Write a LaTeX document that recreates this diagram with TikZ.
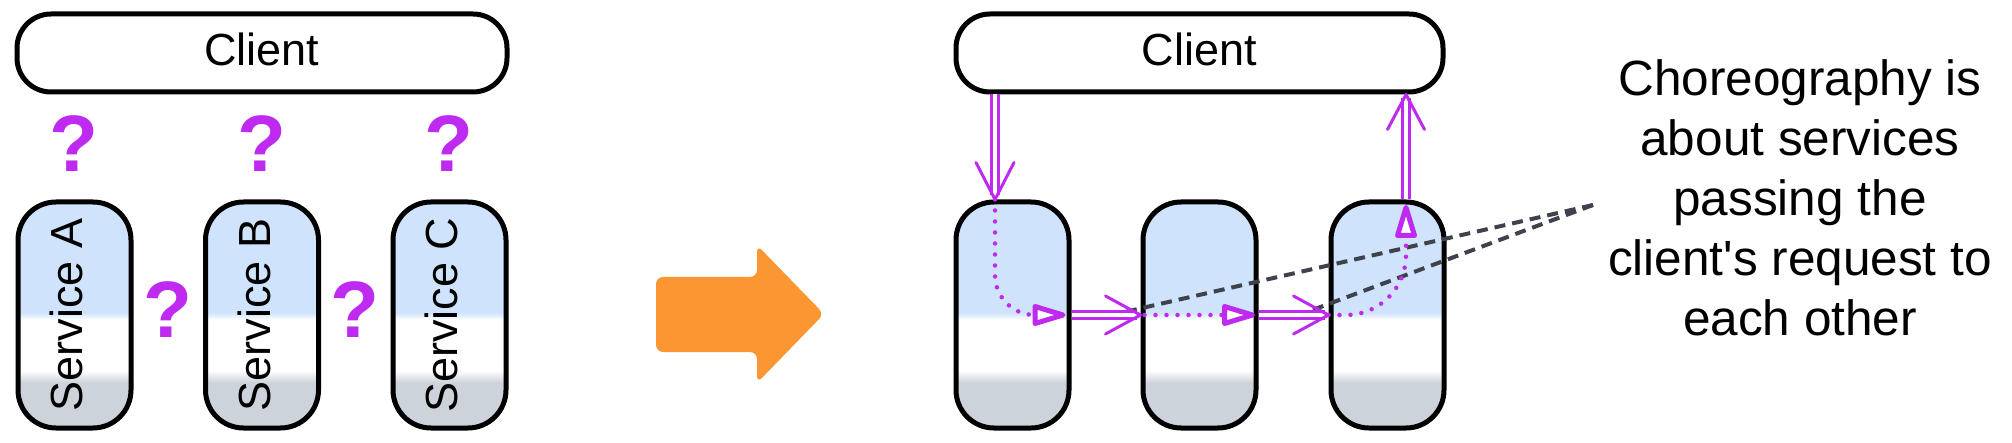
\documentclass[tikz,border=0pt]{standalone}
\usepackage{fontspec}
\setmainfont{Liberation Sans}[Ligatures=TeXOff]
\usetikzlibrary{calc}
\definecolor{vio}{RGB}{190,42,240}
\definecolor{boxblue}{RGB}{207,228,252}
\definecolor{boxgray}{RGB}{205,211,219}
\definecolor{dashgray}{RGB}{62,66,76}
\definecolor{arrorange}{RGB}{251,151,51}
\pgfdeclareverticalshading{svcshade}{100bp}{color(0bp)=(boxgray); color(35bp)=(boxgray); color(37.8bp)=(white); color(49bp)=(white); color(50.5bp)=(boxblue); color(100bp)=(boxblue)}
\tikzset{
  boxline/.style={draw=black, line width=5pt},
  clientbox/.style={boxline, rounded corners=34pt, minimum width=490pt, minimum height=78pt, fill=white, font=\fontsize{45}{54}\selectfont, text depth=8pt, inner sep=0pt},
  svcbox/.style={boxline, rounded corners=38pt, minimum width=113pt, minimum height=226pt, shading=svcshade, inner sep=0pt},
  svclabel/.style={rotate=90, font=\fontsize{45}{54}\selectfont, inner sep=0pt},
  qmark/.style={text=vio, font=\fontsize{80}{90}\selectfont\bfseries, inner sep=0pt},
  dbl/.style={draw=vio, line width=3pt, double=white, double distance=4pt},
  barb/.style={draw=vio, line width=3pt, line join=round, line cap=round},
  dotflow/.style={draw=vio, line width=4.5pt, line cap=round, dash pattern=on 0pt off 11pt},
  tri/.style={draw=vio, fill=white, line width=5pt, line join=round},
  note/.style={draw=dashgray, line width=4pt, dash pattern=on 11pt off 7pt},
  notetext/.style={align=center, font=\fontsize{49.5}{60}\selectfont, inner sep=0pt},
}
\begin{document}
\begin{tikzpicture}[x=1pt,y=1pt]
\useasboundingbox (0,0) rectangle (2012,-443);
% ---------- left part ----------
\node[clientbox, minimum width=490pt] (c1) at (262,-53) {Client};
\node[svcbox] (sA) at (74.5,-315) {};
\node[svcbox] (sB) at (262,-315) {};
\node[svcbox] (sC) at (449.5,-315) {};
\node[svclabel] (lA) at ([xshift=-8pt]sA.center) {Service A};
\node[svclabel] (lB) at ([xshift=-8pt]sB.center) {Service B};
\node[svclabel] (lC) at ([xshift=-8pt]sC.center) {Service C};
\node[qmark] (q1) at (74,-144) {?};
\node[qmark] (q2) at (262,-144) {?};
\node[qmark] (q3) at (449,-144) {?};
\node[qmark] (q4) at (168,-310) {?};
\node[qmark] (q5) at (355,-310) {?};
% ---------- orange arrow ----------
\fill[arrorange, rounded corners=7pt] (656,-277) -- (757,-277) -- (757,-245) -- (824,-314) -- (757,-383) -- (757,-352) -- (656,-352) -- cycle;
% ---------- right part ----------
\node[clientbox, minimum width=487pt] (c2) at (1199.5,-53) {Client};
\node[svcbox] (r1) at (1012.5,-315) {};
\node[svcbox] (r2) at (1199.5,-315) {};
\node[svcbox] (r3) at (1387.5,-315) {};
\coordinate (din) at ([xshift=-17.5pt]r1.north);
\coordinate (uout) at ([xshift=18.5pt]r3.north);
\coordinate (k1) at (din |- r1.east);
\coordinate (k3) at (uout |- r3.west);
\coordinate (t1) at ([xshift=-8.5pt]r1.east);
\coordinate (t2) at ([xshift=-6pt]r2.east);
\coordinate (t3) at ([yshift=-8pt]uout);
\coordinate (np) at (1593,-205);
% dashed note lines
\draw[note] (np) -- ($(r1.east)!0.58!(r2.west)$);
\draw[note] (np) -- ($(r2.east)!0.58!(r3.west)$);
% down arrow from client
\draw[dbl] (din |- c2.south) -- ([yshift=4pt]din);
\draw[barb] ([shift={(-19pt,37pt)}]din) -- (din) -- ([shift={(19pt,37pt)}]din);
% up arrow to client
\coordinate (utip) at (uout |- c2.south);
\draw[dbl] (uout) -- ([yshift=-4pt]utip);
\draw[barb] ([shift={(-18.5pt,-35pt)}]utip) -- (utip) -- ([shift={(18.5pt,-35pt)}]utip);
% horizontal double arrows
\draw[dbl] (r1.east) -- ([xshift=-4pt]r2.west);
\draw[barb] ([shift={(-35pt,19pt)}]r2.west) -- (r2.west) -- ([shift={(-35pt,-19pt)}]r2.west);
\draw[dbl] (r2.east) -- ([xshift=-4pt]r3.west);
\draw[barb] ([shift={(-35pt,19pt)}]r3.west) -- (r3.west) -- ([shift={(-35pt,-19pt)}]r3.west);
% dotted flows inside the services
\draw[dotflow] (din) -- ([yshift=40pt]k1) to[out=-90,in=180] ([xshift=40pt]k1) -- ([xshift=-28pt]t1);
\draw[tri] (t1) -- ++(-28,8.5) -- ++(0,-17) -- cycle;
\draw[dotflow] ([xshift=4pt]r2.west) -- ([xshift=-28pt]t2);
\draw[tri] (t2) -- ++(-28,8.5) -- ++(0,-17) -- cycle;
\draw[dotflow] (r3.west) -- ([xshift=-60pt]k3) to[out=0,in=-90] ([yshift=60pt]k3) -- ([yshift=-28pt]t3);
\draw[tri] (t3) -- ++(8.5,-28) -- ++(-17,0) -- cycle;
% note text
\node[notetext, anchor=north] (txt) at (1800,-59) {Choreography is\\about services\\passing the\\client's request to\\each other};
\end{tikzpicture}
\end{document}
